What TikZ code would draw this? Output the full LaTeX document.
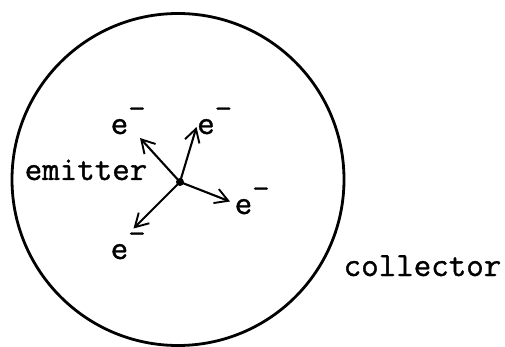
\documentclass[tikz,border=0pt]{standalone}
\usepackage{fontspec}
\newfontfamily\typew{Latin Modern Mono}[FakeBold=1.1]
\usetikzlibrary{arrows.meta}
\begin{document}
\begin{tikzpicture}[x=1pt,y=-1pt,
  lbl/.style={font=\fontsize{34}{37}\selectfont\typew, inner sep=0pt, anchor=base},
  ray/.style={line width=2.1pt, -{Straight Barb[length=13pt,width=15pt,line width=1.9pt]}},
  elec/.style={lbl}]
\useasboundingbox (0,0) rectangle (505,347);
\node[draw, circle, line width=2.8pt, minimum size=332pt, inner sep=0pt] (collectorring) at (178,179.5) {};
\node[circle, fill=black, inner sep=0pt, minimum size=8pt] (dot) at (180,182) {};
\coordinate (t1) at (140,138);
\coordinate (t2) at (196.5,127);
\coordinate (t3) at (230,201.5);
\coordinate (t4) at (133.5,228.5);
\draw[ray] (dot.center) -- (t1);
\draw[ray] (dot.center) -- (t2);
\draw[ray] (dot.center) -- (t3);
\draw[ray] (dot.center) -- (t4);
\node[lbl] (emitter) at (86,180) {emitter};
\node[lbl] (collector) at (422.5,276) {collector};
\node[elec, anchor=base west] (e1) at (110.5,134) {e\raisebox{15pt}{-}};
\node[elec, anchor=base west] (e2) at (197,134) {e\raisebox{15pt}{-}};
\node[elec, anchor=base west] (e3) at (234.5,214) {e\raisebox{15pt}{-}};
\node[elec, anchor=base west] (e4) at (110.5,259) {e\raisebox{15pt}{-}};
\end{tikzpicture}
\end{document}
